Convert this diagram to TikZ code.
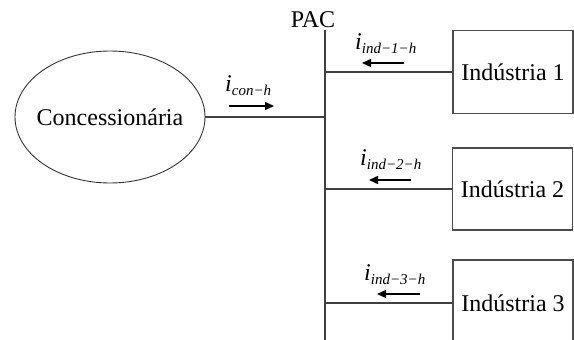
\documentclass[tikz,border=0pt]{standalone}
\usepackage{fontspec}
\setmainfont{Liberation Serif}
\usetikzlibrary{shapes.geometric,arrows.meta}
\tikzset{
  wire/.style={draw=black!75, line width=1.3pt},
  boxnode/.style={draw=black!70, line width=1.3pt, rectangle, minimum width=120pt, inner sep=0pt, font=\fontsize{24}{28}\selectfont},
  ellnode/.style={draw=black!80, line width=0.9pt, ellipse, minimum width=190pt, minimum height=132pt, inner sep=-30pt, font=\fontsize{24}{28}\selectfont},
  curarrow/.style={line width=1.4pt, -{Triangle[length=9pt,width=8pt]}},
  curlabel/.style={inner sep=0pt, anchor=base west}
}
\newcommand{\curr}[1]{{\fontsize{24}{28}\selectfont\itshape i}\raisebox{-4pt}{\fontsize{15}{18}\selectfont\itshape #1}}
\begin{document}
\begin{tikzpicture}[x=1pt,y=-1pt]
\useasboundingbox (0,0) rectangle (574,340);
\clip (0,0) rectangle (574,340);
% nodes
\node[ellnode] (ell) at (110,117) {Concession\'aria};
\node[boxnode, minimum height=83pt] (b1) at (513,72) {Ind\'ustria 1};
\node[boxnode, minimum height=82pt] (b2) at (512.5,189) {Ind\'ustria 2};
\node[boxnode, minimum height=86pt] (b3) at (513,303) {Ind\'ustria 3};
\node[inner sep=0pt, font=\fontsize{24}{28}\selectfont] (pac) at (313,20) {PAC};
\coordinate (bustop) at (325,30);
\coordinate (busbot) at (325,345);
\draw[wire] (bustop) -- (busbot);
% connectors
\draw[wire] (ell.east) -- (ell.east -| bustop);
\draw[wire] (b1.west) -- (b1.west -| bustop);
\draw[wire] (b2.west) -- (b2.west -| bustop);
\draw[wire] (b3.west) -- (b3.west -| bustop);
% current arrows
\coordinate (a0s) at (229,106); \coordinate (a0e) at (274,106);
\coordinate (a1s) at (404,63); \coordinate (a1e) at (362,63);
\coordinate (a2s) at (411,180); \coordinate (a2e) at (369,180);
\coordinate (a3s) at (420,294); \coordinate (a3e) at (377,294);
\draw[curarrow] (a0s) -- (a0e);
\draw[curarrow] (a1s) -- (a1e);
\draw[curarrow] (a2s) -- (a2e);
\draw[curarrow] (a3s) -- (a3e);
% labels
\node[curlabel] (l0) at (225,92) {\curr{con−h}};
\node[curlabel] (l1) at (355,49) {\curr{ind−1−h}};
\node[curlabel] (l2) at (360,165) {\curr{ind−2−h}};
\node[curlabel] (l3) at (364,280) {\curr{ind−3−h}};
\end{tikzpicture}
\end{document}
